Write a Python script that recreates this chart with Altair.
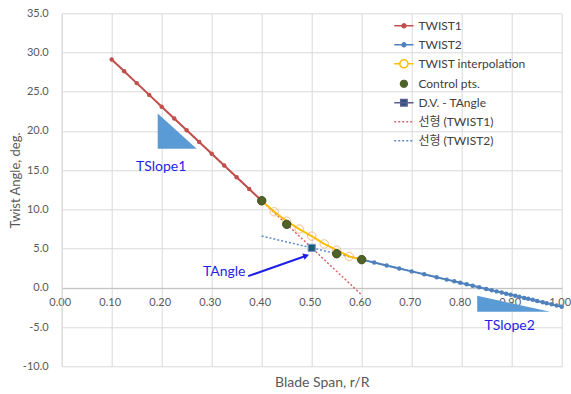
import altair as alt
import pandas as pd

# ---------------- data ----------------
t1_x = [0.100, 0.125, 0.150, 0.175, 0.200, 0.225, 0.250, 0.275, 0.300, 0.325, 0.350, 0.375, 0.400]
t1_y = [29.1, 27.6, 26.1, 24.6, 23.1, 21.6, 20.1, 18.6, 17.1, 15.6, 14.1, 12.6, 11.1]

t2_x = [0.600, 0.625, 0.650, 0.675, 0.700, 0.725, 0.750, 0.770, 0.785, 0.797,
        0.810, 0.822, 0.835, 0.849, 0.860, 0.870, 0.880, 0.889, 0.898, 0.907,
        0.915, 0.925, 0.933, 0.942, 0.951, 0.962, 0.970, 0.980, 0.990, 1.000]
t2_y = [3.60, 3.23, 2.85, 2.48, 2.10, 1.73, 1.35, 1.05, 0.83, 0.65,
        0.45, 0.27, 0.08, -0.14, -0.30, -0.45, -0.60, -0.74, -0.87, -1.01,
        -1.13, -1.28, -1.40, -1.53, -1.67, -1.83, -1.95, -2.10, -2.25, -2.40]

interp_x = [0.400, 0.425, 0.450, 0.475, 0.500, 0.525, 0.550, 0.575, 0.600]
interp_y = [11.1, 9.7, 8.5, 7.5, 6.6, 5.6, 4.8, 4.0, 3.6]

ctrl_x = [0.40, 0.45, 0.55, 0.60]
ctrl_y = [11.1, 8.1, 4.35, 3.6]

dv_x = [0.50]
dv_y = [5.1]

tri_id = ["TSlope1", "TSlope1", "TSlope2", "TSlope2"]
tri_x = [0.192, 0.270, 0.831, 0.977]
tri_top = [22.24, 17.73, -1.02, -3.06]
tri_bottom = [17.73, 17.73, -3.06, -3.06]

ann_text = ["TSlope1", "TSlope2", "TAngle"]
ann_x = [0.199, 0.896, 0.325]
ann_y = [15.4, -4.9, 2.04]

arrow_x = [0.373, 0.489]
arrow_y = [1.49, 4.10]

x_ticks = [0.0, 0.1, 0.2, 0.3, 0.4, 0.5, 0.6, 0.7, 0.8, 0.9, 1.0]
y_ticks = [-10, -5, 0, 5, 10, 15, 20, 25, 30, 35]

legend_names = ["TWIST1", "TWIST2", "TWIST interpolation", "Control pts.",
                "D.V. - TAngle", "선형 (TWIST1)", "선형 (TWIST2)"]
legend_strokes = ["#C0504D", "#4F81BD", "#FFC000", "#4F6228", "#5B5B94", "#D9646E", "#5B8BC9"]
legend_fills = ["#C0504D", "#4F81BD", "transparent", "#4F6228", "#215A73", "transparent", "transparent"]
legend_paths = [
    "M-1,0L1,0M-0.2,0A0.2,0.2,0,1,1,0.2,0A0.2,0.2,0,1,1,-0.2,0Z",
    "M-1,0L1,0M-0.2,0A0.2,0.2,0,1,1,0.2,0A0.2,0.2,0,1,1,-0.2,0Z",
    "M-1,0L-0.42,0M0.42,0L1,0M-0.42,0A0.42,0.42,0,1,1,0.42,0A0.42,0.42,0,1,1,-0.42,0Z",
    "M-0.35,0A0.35,0.35,0,1,1,0.35,0A0.35,0.35,0,1,1,-0.35,0Z",
    "M-1,0L1,0M-0.33,-0.33L0.33,-0.33L0.33,0.33L-0.33,0.33Z",
    "M-1,0L1,0",
    "M-1,0L1,0",
]
legend_dashes = [[1, 0], [1, 0], [1, 0], [1, 0], [1, 0], [2, 2], [2, 2]]

# ---------------- frames ----------------
t1 = pd.DataFrame({"x": t1_x, "y": t1_y})
t2 = pd.DataFrame({"x": t2_x, "y": t2_y})
interp = pd.DataFrame({"x": interp_x, "y": interp_y})
ctrl = pd.DataFrame({"x": ctrl_x, "y": ctrl_y})
dv = pd.DataFrame({"x": dv_x, "y": dv_y})
tri = pd.DataFrame({"id": tri_id, "x": tri_x, "y": tri_top, "y2": tri_bottom})
ann = pd.DataFrame({"text": ann_text, "x": ann_x, "y": ann_y})
arrow = pd.DataFrame({"x": arrow_x, "y": arrow_y})
leg = pd.DataFrame({"series": legend_names})

FONT = "Lato"
GRID = "#D9D9D9"
LBL = "#595959"
BLUE_TXT = "#1F1FE6"

W, H = 500, 353
zero_offset = -(H * 10.0 / 45.0)

x_axis = alt.Axis(
    values=x_ticks, labelExpr="format(datum.value, '.2f')", offset=zero_offset,
    grid=True, gridColor=GRID, gridWidth=1, domainColor="#BFBFBF", domainWidth=1,
    ticks=False, tickSize=0, labelPadding=15, labelBaseline="middle", labelOffset=-2,
    labelFont=FONT, labelFontSize=11, labelColor=LBL, labelFlush=False, labelOverlap=False,
    title="Blade Span, r/R", titleX=260, titleY=95, titleAlign="center", titleBaseline="middle",
    titleFont=FONT, titleFontSize=14, titleColor=LBL, titleFontWeight="normal",
)
y_axis = alt.Axis(
    values=y_ticks,
    labelExpr="datum.value < 0 ? '-' + format(-datum.value, '.1f') : format(datum.value, '.1f')",
    grid=True, gridColor=GRID, gridWidth=1, domainColor=GRID, domainWidth=1,
    ticks=False, tickSize=0, labelPadding=13.5,
    labelFont=FONT, labelFontSize=11, labelColor=LBL, labelOverlap=False, labelFlush=False,
    title="Twist Angle, deg.", titleX=-46.7, titleY=166.7, titleAngle=270,
    titleAlign="center", titleBaseline="middle",
    titleFont=FONT, titleFontSize=13, titleColor=LBL, titleFontWeight="normal",
)

xs = alt.Scale(domain=[0, 1], nice=False)
ys = alt.Scale(domain=[-10, 35], nice=False)


def X():
    return alt.X("x:Q", scale=xs, axis=x_axis)


def Y():
    return alt.Y("y:Q", scale=ys, axis=y_axis)


triangles = alt.Chart(tri).mark_area(color="#5B9BD5", opacity=1).encode(
    x=X(), y=Y(), y2="y2:Q", detail="id:N"
)

trend1 = alt.Chart(t1).transform_regression("x", "y", extent=[0.1, 0.6]).mark_line(
    color="#D9646E", strokeWidth=1.5, strokeDash=[2, 2]
).encode(x=X(), y=Y())

trend2 = alt.Chart(t2).transform_regression("x", "y", extent=[0.4, 1.0]).mark_line(
    color="#5B8BC9", strokeWidth=1.5, strokeDash=[2, 2]
).encode(x=X(), y=Y())

line1 = alt.Chart(t1).mark_line(
    color="#C0504D", strokeWidth=2,
    point=alt.OverlayMarkDef(filled=True, size=20, color="#C0504D"),
).encode(x=X(), y=Y())

line2 = alt.Chart(t2).mark_line(
    color="#4F81BD", strokeWidth=2,
    point=alt.OverlayMarkDef(filled=True, size=20, color="#4F81BD"),
).encode(x=X(), y=Y())

interp_line = alt.Chart(interp).mark_line(color="#FFC000", strokeWidth=2).encode(x=X(), y=Y())
interp_pts = alt.Chart(interp).mark_point(
    shape="circle", filled=False, size=70, color="#F4A460", strokeWidth=1
).encode(x=X(), y=Y())

ctrl_pts = alt.Chart(ctrl).mark_point(
    shape="circle", filled=True, size=70, fill="#4F6228", stroke="#3E4F1F", strokeWidth=1, opacity=1
).encode(x=X(), y=Y())

dv_pt = alt.Chart(dv).mark_point(
    shape="square", filled=True, size=50, fill="#215A73", stroke="#6A95C8", strokeWidth=1, opacity=1
).encode(x=X(), y=Y())

ann_text_layer = alt.Chart(ann).mark_text(
    font=FONT, fontSize=14, color=BLUE_TXT, align="center", baseline="middle"
).encode(x=X(), y=Y(), text="text:N")

arrow_line = alt.Chart(arrow).mark_line(color=BLUE_TXT, strokeWidth=2).encode(x=X(), y=Y())
arrow_head = alt.Chart(arrow.tail(1)).mark_point(
    shape="triangle-up", filled=True, size=45, color=BLUE_TXT, angle=70.6, opacity=1
).encode(x=X(), y=Y())

lg = alt.Legend(
    title=None, orient="none", legendX=331.7, legendY=2.0, padding=0, rowPadding=2,
    symbolSize=372, symbolStrokeWidth=1.5, labelOffset=4,
    labelFont="Lato, 'Noto Sans CJK KR'", labelFontSize=12, labelColor="#404040", labelLimit=300,
)
legend_layer = alt.Chart(leg).transform_filter("false").mark_point(opacity=1).encode(
    fill=alt.Fill("series:N", scale=alt.Scale(domain=legend_names, range=legend_fills), legend=lg),
    stroke=alt.Stroke("series:N", scale=alt.Scale(domain=legend_names, range=legend_strokes), legend=lg),
    shape=alt.Shape("series:N", scale=alt.Scale(domain=legend_names, range=legend_paths), legend=lg),
    strokeDash=alt.StrokeDash("series:N", scale=alt.Scale(domain=legend_names, range=legend_dashes), legend=lg),
)

chart = alt.layer(
    triangles, trend1, trend2, line1, line2, interp_line, interp_pts,
    ctrl_pts, dv_pt, ann_text_layer, arrow_line, arrow_head, legend_layer,
).properties(
    width=W, height=H,
    padding={"left": 61.7, "top": 13.3, "right": 9.3, "bottom": 27.7},
    autosize=alt.AutoSizeParams(type="none"),
).configure(font=FONT).configure_view(strokeWidth=0)

chart.save("out.html", embed_options={"renderer": "svg", "actions": False})
